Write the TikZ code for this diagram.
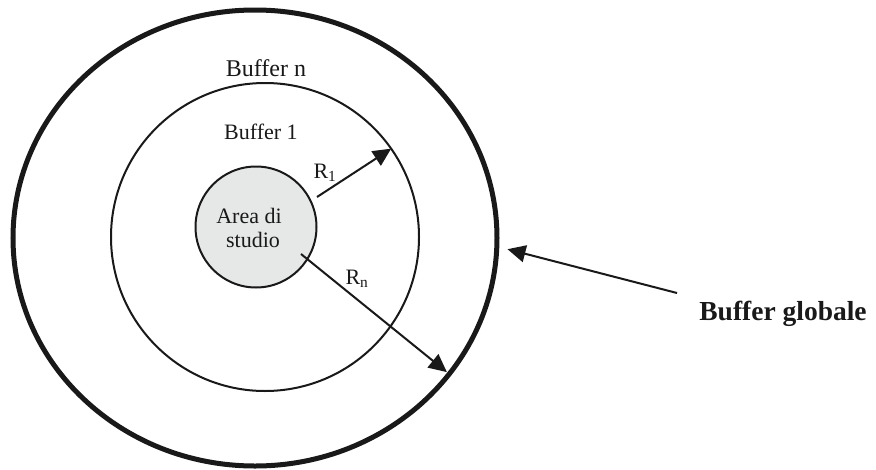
\documentclass[tikz,border=0pt]{standalone}
\usepackage{fontspec}
\setmainfont{Liberation Serif}
\usetikzlibrary{arrows.meta,shapes.geometric}
\definecolor{areagray}{RGB}{230,231,231}
\tikzset{
  ring/.style={draw=black!90, inner sep=0pt, outer sep=0pt},
  arr/.style={draw=black!90, line width=2pt, -{Triangle[length=18pt,width=17pt]}},
  lbl/.style={inner sep=0pt, text=black!90},
}
\begin{document}
\begin{tikzpicture}[x=1pt,y=-1pt]
\useasboundingbox (0,0) rectangle (876,469);
% rings
\node[ring, ellipse, line width=5pt, minimum width=484pt, minimum height=456pt] (outer) at (255,238) {};
\node[ring, circle, line width=2pt, minimum size=308pt] (mid) at (265,237) {};
\node[ring, circle, line width=2pt, fill=areagray, minimum size=121pt] (area) at (256,227) {};
% labels
\node[lbl, align=center, font=\fontsize{22}{24}\selectfont] (areatxt) at (249,228) {Area di\\\hspace*{8pt}studio};
\node[lbl, font=\fontsize{24}{26}\selectfont] (bn) at (266,68) {Buffer n};
\node[lbl, font=\fontsize{22}{24}\selectfont] (b1) at (261,132) {Buffer 1};
\node[lbl, font=\fontsize{22}{24}\selectfont] (r1) at (325,173) {R\textsubscript{1}};
\node[lbl, font=\fontsize{22}{24}\selectfont] (rn) at (357,279) {R\textsubscript{n}};
\node[lbl, font=\bfseries\fontsize{27.5}{30}\selectfont] (glob) at (783,314) {Buffer globale};
% arrows
\coordinate (r1s) at (317,197);
\coordinate (rns) at (301,254);
\coordinate (gs) at (677,293);
\draw[arr] (r1s) -- (mid.35);
\draw[arr, shorten >=3pt] (rns) -- (outer.-35);
\draw[arr, shorten >=11pt] (gs) -- (outer.-2);
\end{tikzpicture}
\end{document}
